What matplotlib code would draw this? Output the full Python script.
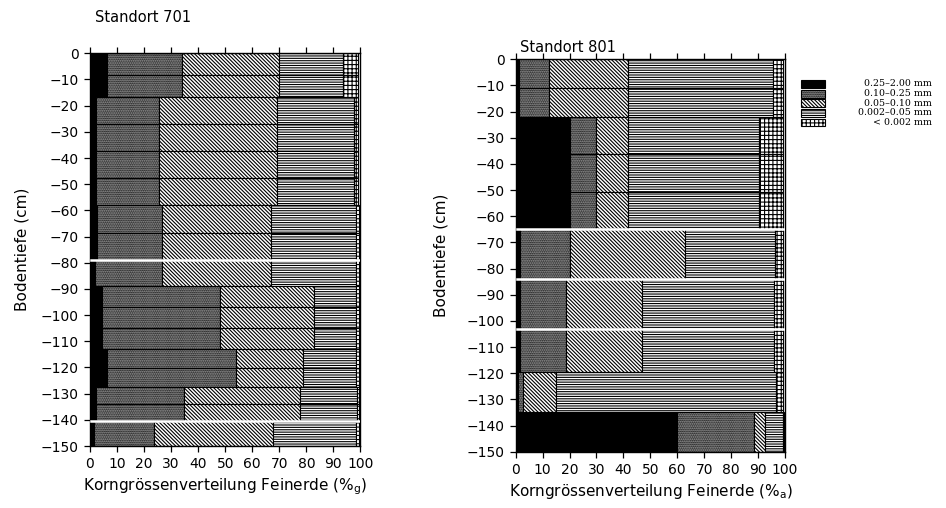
import matplotlib
matplotlib.use("Agg")
import matplotlib.pyplot as plt
from matplotlib.patches import Rectangle
import numpy as np

plt.rcParams['font.family'] = ['DejaVu Sans']
plt.rcParams['hatch.linewidth'] = 0.8

# ---------------- data ----------------
classes = ["0.25\u20132.00 mm", "0.10\u20130.25 mm", "0.05\u20130.10 mm",
           "0.002\u20130.05 mm", "< 0.002 mm"]
x_ticks = list(range(0, 101, 10))
y_ticks = list(range(0, -151, -10))

# Standort 701: horizon depth ranges (cm), number of sample rows, class shares (%)
top_701 = [0, 16.6, 58, 79, 89, 113, 127.3, 140.5]
bot_701 = [16.6, 58, 79, 89, 113, 127.3, 140.5, 150]
rows_701 = [2, 4, 2, 1, 3, 2, 2, 1]
gaps_701 = [79, 140.5]
cs_701 = [6.3, 2.2, 2.5, 1.8, 4.3, 6.3, 2.2, 1.4]      # 0.25-2.00
ms_701 = [27.7, 23.4, 24.0, 24.7, 43.7, 47.7, 32.6, 22.2]  # 0.10-0.25
fs_701 = [35.8, 43.6, 40.5, 40.5, 35.0, 24.8, 43.0, 44.2]  # 0.05-0.10
si_701 = [23.9, 28.6, 31.3, 31.3, 15.5, 19.4, 20.9, 30.4]  # 0.002-0.05
cl_701 = [5.5, 1.4, 1.0, 1.0, 0.8, 1.1, 0.7, 1.1]          # <0.002

# Standort 801
top_801 = [0, 22, 65, 84, 103, 119.4, 134.7]
bot_801 = [22, 65, 84, 103, 119.4, 134.7, 150]
rows_801 = [2, 3, 1, 1, 1, 1, 1]
gaps_801 = [65, 84, 103]
cs_801 = [1.4, 20.0, 1.6, 1.6, 1.6, 1.0, 60.0]
ms_801 = [11.1, 9.8, 18.7, 17.1, 17.1, 1.6, 28.5]
fs_801 = [29.1, 12.0, 42.7, 28.3, 28.3, 12.4, 4.2]
si_801 = [54.0, 48.5, 33.2, 49.0, 49.0, 81.6, 6.5]
cl_801 = [3.8, 9.1, 3.2, 3.4, 3.4, 2.6, 0.5]

styles = [
    dict(facecolor='black'),
    dict(facecolor='#9c9c9c', hatch='.' * 9),
    dict(facecolor='white', hatch='\\' * 9),
    dict(facecolor='white', hatch='-' * 7),
    dict(facecolor='white', hatch='+' * 4),
]

fig = plt.figure(figsize=(9.46, 5.08), dpi=100)


def draw(ax, tops, bots, nrows, shares, gaps):
    for i in range(len(tops)):
        edges = np.linspace(tops[i], bots[i], nrows[i] + 1)
        y = -edges[1:]
        h = np.diff(edges)
        left = 0.0
        for vals, sty in zip(shares, styles):
            w = vals[i]
            ax.barh(y, w, height=h, left=left, align='edge',
                    edgecolor='black', linewidth=0.8, **sty)
            left += w
    for g in gaps:
        ax.axhline(-g, color='white', lw=1.8, xmin=0.004, xmax=0.995, zorder=5)
    ax.set_xlim(0, 100)
    ax.set_ylim(-150, 0)
    ax.set_xticks(x_ticks)
    ax.set_yticks(y_ticks)
    ax.tick_params(direction='out', length=4.5, width=0.9, top=True,
                   labeltop=False, labelsize=10)
    for s in ax.spines.values():
        s.set_linewidth(1.0)


ax1 = fig.add_axes([0.0951, 0.1220, 0.2859, 0.7731])
draw(ax1, top_701, bot_701, rows_701,
     [cs_701, ms_701, fs_701, si_701, cl_701], gaps_701)
ax1.set_ylabel('Bodentiefe (cm)', fontsize=11)
ax1.set_xlabel('Korngrössenverteilung Feinerde (%$_{\\rm g}$)', fontsize=11)
ax1.yaxis.set_label_coords(-0.222, 0.5)

ax2 = fig.add_axes([0.5451, 0.1108, 0.2847, 0.7725])
draw(ax2, top_801, bot_801, rows_801,
     [cs_801, ms_801, fs_801, si_801, cl_801], gaps_801)
ax2.set_ylabel('Bodentiefe (cm)', fontsize=11)
ax2.set_xlabel('Korngrössenverteilung Feinerde (%$_{\\rm a}$)', fontsize=11)
ax2.yaxis.set_label_coords(-0.25, 0.5)

fig.text(95 / 946, 1 - 17 / 508, 'Standort 701', fontsize=10.5, va='center', ha='left')
fig.text(520 / 946, 1 - 47 / 508, 'Standort 801', fontsize=10.5, va='center', ha='left')

# legend
for i, (lab, sty) in enumerate(zip(classes, styles)):
    yc = 1 - (84 + i * 9.6) / 508
    fig.patches.append(Rectangle((801 / 946, yc - 3.9 / 508), 24 / 946, 7.8 / 508,
                                 transform=fig.transFigure, edgecolor='black',
                                 linewidth=0.8, **sty))
    fig.text(932 / 946, yc, lab, ha='right', va='center',
             family='DejaVu Serif', fontsize=6.8)

fig.savefig('out.png', dpi=100)
